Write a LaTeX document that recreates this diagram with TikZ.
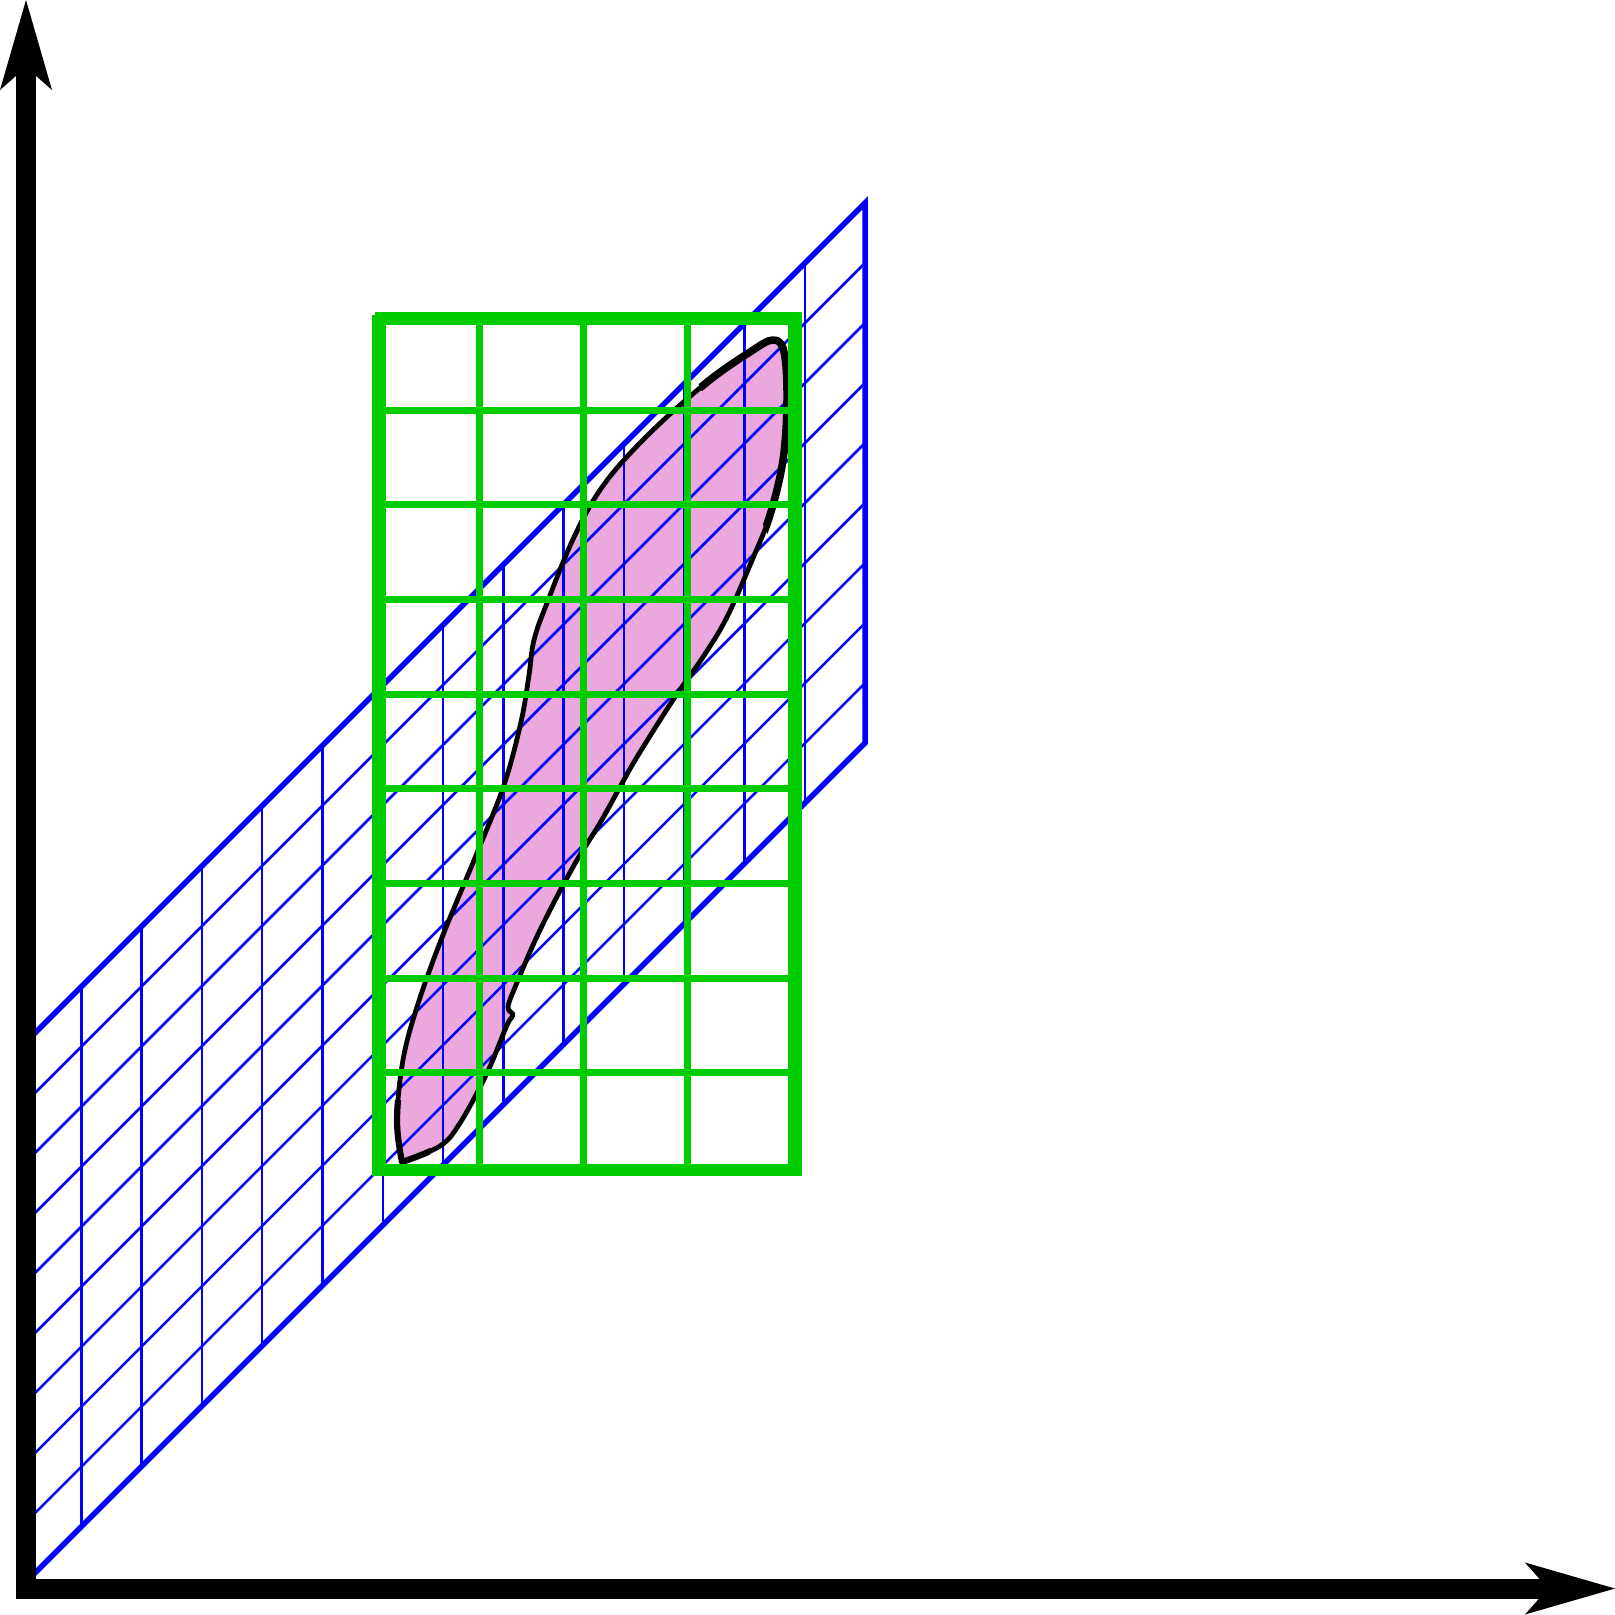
\documentclass[tikz,border=0pt]{standalone}
\usetikzlibrary{arrows.meta}
\definecolor{planeblue}{RGB}{0,0,255}
\definecolor{boxgreen}{RGB}{0,204,0}
\definecolor{blobpink}{RGB}{234,168,222}
\tikzset{
  axisline/.style={line width=0.2cm, black,
    {Stealth[length=0.9cm, width=0.52cm, inset=0.23cm, line width=0pt]}-{Stealth[length=0.9cm, width=0.52cm, inset=0.23cm, line width=0pt]}},
  planethin/.style={planeblue, line width=0.025cm},
  planeedge/.style={planeblue, line width=0.055cm},
  boxthin/.style={boxgreen, line width=0.07cm},
  boxedge/.style={boxgreen, line width=#1},
  boxedge/.default=0.14cm,
  blobline/.style={black, line width=#1, line join=round},
  blobline/.default=0.048cm,
  blobpath/.style={insert path={plot[smooth, tension=0.6] coordinates {
    (402,1162) (397,1120) (403,1060) (417,1007) (441,940) (477,853)
    (504,785) (521,722) (529,675) (534,640) (547,603) (575,535) (605,483)
    (650,433) (706,383) (750,352) (773,340) (784,352) (787,400) (783,460)
    (770,515) (753,558) (727,617) (703,657) (673,700) (637,757) (620,787)
    (600,823) (573,867) (540,930) (516,985) (508,1007) (513,1015)
    (507,1025) (487,1073) (460,1123) (440,1146) (402,1162)} -- cycle}},
}

\begin{document}
\begin{tikzpicture}[x=0.01cm, y=-0.01cm]
\useasboundingbox (0,0) rectangle (1615,1615);

% pink region
\fill[blobpink, blobpath];

% oblique plane
\coordinate (p0) at (21,1587);
\coordinate (p1) at (865,743);
\coordinate (p2) at (865,203);
\coordinate (p3) at (21,1047);
\foreach \i in {1,...,13}
  \draw[planethin] ({21+60.3*\i},{1587-60.3*\i}) -- ++(0,-540);
\foreach \j in {1,...,8}
  \draw[planethin] (21,{1587-60*\j}) -- ++(844,-844);
\draw[planeedge] (p0) -- (p1) -- (p2) -- (p3) -- cycle;

% outline of region, heavier at the top
\draw[blobline, blobpath];
\begin{scope}
  \clip (660,300) -- (830,300) -- (830,540) -- (770,540) -- cycle;
  \draw[blobline=0.075cm, blobpath];
\end{scope}
\begin{scope}
  \clip (380,1100) rectangle (430,1180);
  \draw[blobline=0.062cm, blobpath];
\end{scope}

% green box
\foreach \x in {479.7,583.5,687.3}
  \draw[boxthin] (\x,318) -- (\x,1176);
\foreach \k in {0,...,7}
  \draw[boxthin] (378,{410+94.7*\k}) -- (802,{410+94.7*\k});
\draw[boxedge=0.13cm] (375,318) -- (802,318);
\draw[boxedge] (378.5,315) -- (378.5,1176);
\draw[boxedge] (795,312) -- (795,1176);
\draw[boxedge=0.12cm] (372,1170) -- (802,1170);

% axes
\coordinate (ytip) at (26,0);
\coordinate (xtip) at (1615,1588.5);
\draw[axisline] (ytip) |- (xtip);
\end{tikzpicture}
\end{document}
